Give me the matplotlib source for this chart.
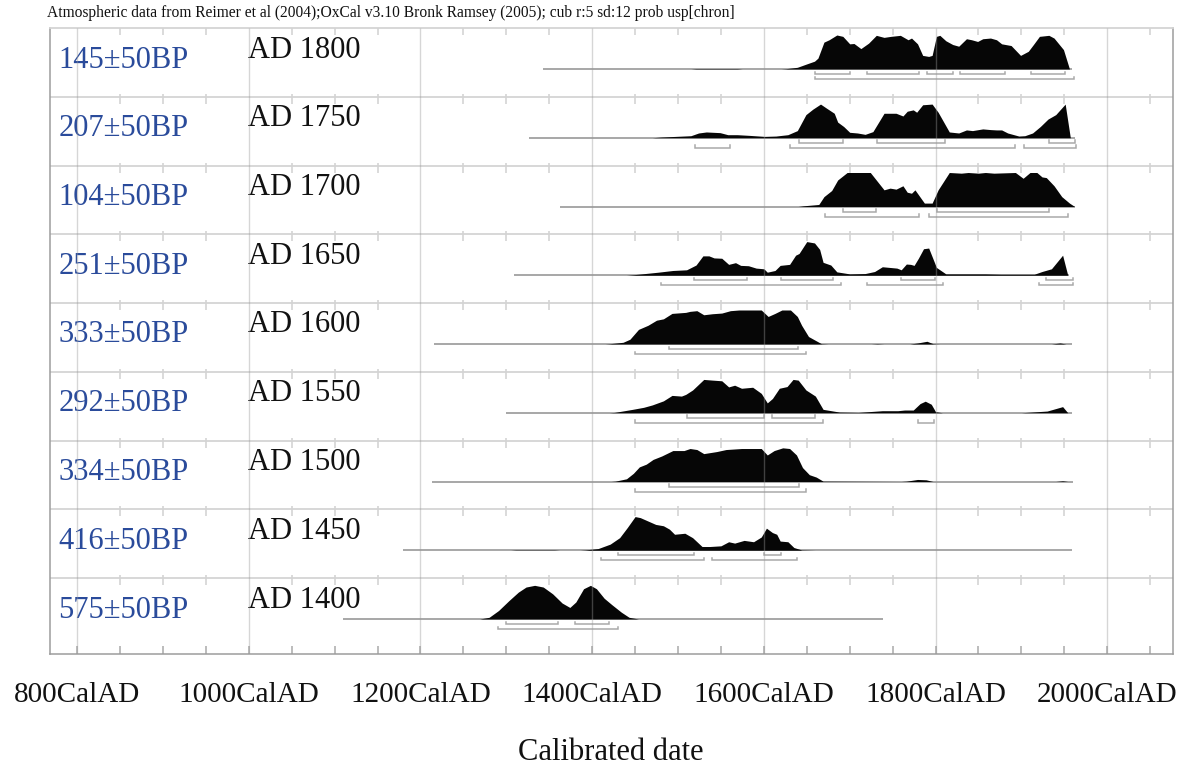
import matplotlib
matplotlib.use('Agg')
import matplotlib.pyplot as plt

plt.rcParams['font.family'] = ['Liberation Serif', 'DejaVu Serif']

header = ('Atmospheric data from Reimer et al (2004);OxCal v3.10 Bronk Ramsey (2005); '
          'cub r:5 sd:12 prob usp[chron]')

bp_labels = ['145±50BP', '207±50BP', '104±50BP', '251±50BP', '333±50BP',
             '292±50BP', '334±50BP', '416±50BP', '575±50BP']
ad_labels = ['AD 1800', 'AD 1750', 'AD 1700', 'AD 1650', 'AD 1600',
             'AD 1550', 'AD 1500', 'AD 1450', 'AD 1400']

# calibration range drawn as the thin line under each curve
range_start = [1343, 1327, 1363, 1309, 1216, 1300, 1214, 1180, 1110]
range_end = [1959, 1963, 1962, 1956, 1959, 1959, 1960, 1959, 1739]

tick_years = [800, 1000, 1200, 1400, 1600, 1800, 2000]
tick_labels = ['800CalAD', '1000CalAD', '1200CalAD', '1400CalAD',
               '1600CalAD', '1800CalAD', '2000CalAD']

# probability curves (year, probability relative to the curve maximum)
pts_145 = [(1343, 0), (1515, 0), (1521, 0.012), (1569, 0.012), (1575, 0),
           (1620, 0), (1626, 0.01), (1639, 0.05), (1650, 0.15), (1659, 0.23),
           (1663, 0.32), (1670, 0.79), (1676, 0.86), (1685, 1.0), (1692, 0.96),
           (1700, 0.74), (1705, 0.75), (1713, 0.60), (1722, 0.76), (1731, 0.99),
           (1740, 0.93), (1748, 0.96), (1759, 0.99), (1768, 0.86), (1772, 0.91),
           (1779, 0.74), (1785, 0.40), (1792, 0.37), (1796, 0.40), (1801, 0.96),
           (1805, 0.99), (1812, 0.83), (1820, 0.72), (1827, 0.67), (1836, 0.89),
           (1842, 0.86), (1849, 0.81), (1855, 0.89), (1864, 0.91), (1871, 0.86),
           (1877, 0.74), (1888, 0.69), (1899, 0.40), (1908, 0.52), (1914, 0.72),
           (1921, 0.96), (1932, 0.99), (1938, 0.91), (1949, 0.57), (1956, 0)]
pts_207 = [(1327, 0), (1470, 0), (1480, 0.02), (1515, 0.06), (1524, 0.14),
           (1533, 0.17), (1549, 0.15), (1558, 0.09), (1569, 0.09), (1583, 0.07),
           (1601, 0.04), (1614, 0.05), (1628, 0.09), (1639, 0.21), (1649, 0.68),
           (1657, 0.84), (1666, 0.99), (1673, 0.87), (1682, 0.72), (1686, 0.46),
           (1693, 0.33), (1700, 0.16), (1709, 0.14), (1718, 0.10), (1727, 0.18),
           (1740, 0.72), (1754, 0.72), (1762, 0.64), (1767, 0.78), (1774, 0.82),
           (1778, 0.75), (1785, 0.97), (1796, 0.99), (1803, 0.75), (1816, 0.17),
           (1827, 0.14), (1836, 0.23), (1843, 0.21), (1855, 0.26), (1864, 0.24),
           (1871, 0.23), (1877, 0.23), (1884, 0.14), (1897, 0.05), (1904, 0.06),
           (1913, 0.14), (1922, 0.33), (1931, 0.55), (1940, 0.68), (1951, 0.99),
           (1957, 0)]
pts_104 = [(1363, 0), (1640, 0), (1646, 0.02), (1664, 0.06), (1670, 0.29),
           (1679, 0.47), (1686, 0.78), (1697, 1.0), (1724, 1.0), (1740, 0.49),
           (1747, 0.54), (1754, 0.51), (1762, 0.61), (1767, 0.42), (1772, 0.39),
           (1776, 0.49), (1787, 0.10), (1796, 0.10), (1803, 0.49), (1816, 1.0),
           (1830, 0.98), (1838, 1.0), (1850, 0.98), (1858, 1.0), (1868, 0.98),
           (1893, 1.0), (1902, 0.83), (1910, 1.0), (1918, 1.0), (1924, 0.87),
           (1929, 0.85), (1938, 0.61), (1947, 0.29), (1956, 0.10), (1962, 0)]
pts_251 = [(1309, 0), (1440, 0), (1450, 0.02), (1477, 0.09), (1494, 0.14),
           (1510, 0.16), (1521, 0.30), (1529, 0.57), (1536, 0.57), (1542, 0.51),
           (1551, 0.50), (1559, 0.32), (1567, 0.37), (1573, 0.29), (1582, 0.28),
           (1591, 0.21), (1600, 0.19), (1604, 0.09), (1613, 0.14), (1619, 0.29),
           (1630, 0.32), (1637, 0.59), (1641, 0.64), (1650, 0.99), (1659, 0.95),
           (1665, 0.76), (1669, 0.38), (1678, 0.30), (1685, 0.10), (1700, 0.04),
           (1718, 0.05), (1729, 0.11), (1738, 0.25), (1755, 0.21), (1760, 0.16),
           (1766, 0.33), (1771, 0.32), (1775, 0.29), (1780, 0.50), (1786, 0.78),
           (1792, 0.80), (1801, 0.23), (1812, 0.04), (1836, 0.04), (1858, 0.04),
           (1876, 0.03), (1915, 0.03), (1924, 0.11), (1935, 0.19), (1948, 0.59),
           (1954, 0)]
pts_333 = [(1216, 0), (1415, 0), (1421, 0.01), (1436, 0.05), (1444, 0.14),
           (1454, 0.43), (1465, 0.55), (1475, 0.70), (1483, 0.74), (1493, 0.90),
           (1509, 0.93), (1514, 0.96), (1522, 0.98), (1530, 0.86), (1540, 0.89),
           (1551, 0.91), (1561, 0.98), (1571, 1.0), (1597, 1.0), (1605, 0.81),
           (1613, 0.90), (1621, 1.0), (1631, 1.0), (1639, 0.81), (1644, 0.55),
           (1652, 0.22), (1667, 0.01), (1675, 0), (1725, 0), (1732, 0.01),
           (1740, 0), (1770, 0), (1779, 0.03), (1790, 0.08), (1797, 0.01),
           (1805, 0), (1935, 0), (1945, 0.03), (1952, 0)]
pts_292 = [(1300, 0), (1420, 0), (1426, 0.01), (1447, 0.10), (1460, 0.16),
           (1470, 0.23), (1483, 0.35), (1493, 0.51), (1504, 0.49), (1509, 0.54),
           (1517, 0.67), (1530, 0.98), (1540, 0.96), (1551, 0.94), (1559, 0.76),
           (1566, 0.81), (1574, 0.72), (1587, 0.75), (1597, 0.57), (1604, 0.29),
           (1610, 0.42), (1618, 0.72), (1627, 0.77), (1634, 0.98), (1640, 0.96),
           (1649, 0.67), (1660, 0.49), (1669, 0.10), (1688, 0.02), (1710, 0.01),
           (1738, 0.06), (1756, 0.06), (1764, 0.08), (1774, 0.08), (1782, 0.27),
           (1788, 0.34), (1795, 0.25), (1800, 0.03), (1808, 0), (1900, 0),
           (1930, 0.05), (1948, 0.18), (1954, 0)]
pts_334 = [(1214, 0), (1422, 0), (1427, 0.01), (1440, 0.08), (1448, 0.24),
           (1455, 0.43), (1463, 0.51), (1471, 0.65), (1481, 0.75), (1494, 0.91),
           (1507, 0.91), (1514, 0.97), (1522, 0.94), (1530, 0.82), (1545, 0.88),
           (1556, 0.94), (1574, 0.97), (1597, 0.97), (1604, 0.78), (1612, 0.91),
           (1622, 0.99), (1630, 0.97), (1638, 0.78), (1645, 0.41), (1653, 0.20),
           (1661, 0.13), (1669, 0.01), (1760, 0), (1766, 0.01), (1779, 0.06),
           (1789, 0.05), (1797, 0), (1940, 0), (1948, 0.02), (1954, 0)]
pts_416 = [(1180, 0), (1305, 0), (1311, 0.01), (1356, 0.01), (1362, 0),
           (1386, 0), (1392, 0.01), (1407, 0.05), (1421, 0.18), (1432, 0.37),
           (1441, 0.67), (1450, 0.99), (1456, 0.96), (1465, 0.86), (1474, 0.76),
           (1483, 0.72), (1490, 0.62), (1496, 0.47), (1508, 0.50), (1517, 0.37),
           (1528, 0.11), (1537, 0.11), (1550, 0.13), (1559, 0.25), (1566, 0.21),
           (1577, 0.29), (1588, 0.25), (1597, 0.39), (1603, 0.65), (1610, 0.52),
           (1615, 0.47), (1619, 0.27), (1628, 0.25), (1635, 0.08), (1644, 0.01),
           (1660, 0)]
pts_575 = [(1110, 0), (1269, 0), (1280, 0.05), (1291, 0.25), (1303, 0.54),
           (1314, 0.79), (1323, 0.94), (1333, 0.99), (1343, 0.94), (1354, 0.74),
           (1365, 0.47), (1374, 0.34), (1381, 0.50), (1390, 0.89), (1398, 0.99),
           (1405, 0.89), (1414, 0.61), (1423, 0.42), (1434, 0.20), (1443, 0.05),
           (1454, 0)]
curves = [pts_145, pts_207, pts_104, pts_251, pts_333,
          pts_292, pts_334, pts_416, pts_575]

# 68.2% (one sigma) and 95.4% (two sigma) ranges
sigma1 = [[(1659, 1700), (1720, 1781), (1790, 1820), (1829, 1881), (1911, 1951)],
          [(1641, 1692), (1732, 1811), (1932, 1963)],
          [(1692, 1731), (1802, 1932)],
          [(1519, 1580), (1620, 1680), (1760, 1799), (1929, 1960)],
          [(1490, 1640)],
          [(1510, 1600), (1610, 1660)],
          [(1490, 1641)],
          [(1430, 1519), (1600, 1620)],
          [(1300, 1360), (1380, 1420)]]
sigma2 = [[(1659, 1961)],
          [(1520, 1560), (1631, 1893), (1903, 1964)],
          [(1671, 1781), (1792, 1954)],
          [(1480, 1690), (1720, 1809), (1921, 1960)],
          [(1450, 1649)],
          [(1450, 1669), (1779, 1798)],
          [(1450, 1649)],
          [(1410, 1530), (1540, 1639)],
          [(1290, 1430)]]

# layout in pixel units (y grows downwards)
ROW_H = 68.75
BASE_OFF = 41
PEAK_H = 34
AX_H = 626
BLUE = '#2a4b9b'
GRID = '#d4d4d4'


def bracket(ax, start, end, y):
    ax.plot([start, start, end, end], [y - 2.5, y, y, y - 2.5],
            color='#a9a9a9', lw=1.1, solid_joinstyle='miter', zorder=2)


fig = plt.figure(figsize=(11.85, 7.67), dpi=100)
ax = fig.add_axes([50 / 1185, 113 / 767, 1122.5 / 1185, AX_H / 767])
ax.set_xlim(768.5, 2076)
ax.set_ylim(AX_H, 0)

fifty = list(range(800, 2051, 50))

for i in range(len(curves)):
    top = i * ROW_H
    base = top + BASE_OFF

    # row separator with short ticks every 50 years
    if i > 0:
        ax.axhline(top, color=GRID, lw=1.3, zorder=0)
    ax.vlines([y for y in fifty if y % 200 != 0], top - 3, top + 7,
              color=GRID, lw=1.2, zorder=0)

    ax.hlines(base, range_start[i], range_end[i], color='#8f8f8f', lw=1.1, zorder=1)

    years = [p[0] for p in curves[i]]
    probs = [p[1] for p in curves[i]]
    ax.fill_between(years, base, [base - v * PEAK_H for v in probs],
                    color='#060606', lw=0, zorder=2)

    for s, e in sigma1[i]:
        bracket(ax, s, e, base + 5)
    for s, e in sigma2[i]:
        bracket(ax, s, e, base + 10)

    ax.text(778, top + 39.5, bp_labels[i], color=BLUE, fontsize=22,
            ha='left', va='baseline')
    ax.text(999, top + 29.5, ad_labels[i], color='#111111', fontsize=22,
            ha='left', va='baseline')

# full height lines every 200 years, drawn over the curves
ax.vlines(tick_years, 0, AX_H, color=(0.6, 0.6, 0.6), alpha=0.4, lw=1.0, zorder=3)

# bottom ticks
ax.vlines(fifty, AX_H - 8, AX_H, color='#b0b0b0', lw=1.2, zorder=1)

for side in ['left', 'right', 'bottom']:
    ax.spines[side].set_color('#9c9c9c')
    ax.spines[side].set_linewidth(1.1)
ax.spines['top'].set_color(GRID)
ax.spines['top'].set_linewidth(1.3)

ax.set_yticks([])
ax.set_xticks(tick_years)
ax.set_xticklabels(tick_labels, fontsize=21)
ax.tick_params(axis='x', length=0, pad=20, colors='#111111')
ax.set_xlabel('Calibrated date', fontsize=22, labelpad=22, color='#111111')

fig.text(47 / 1185, 1 - 17 / 767, header, fontsize=11.2, ha='left',
         va='baseline', color='#111111')

fig.savefig('out.png', dpi=100)
